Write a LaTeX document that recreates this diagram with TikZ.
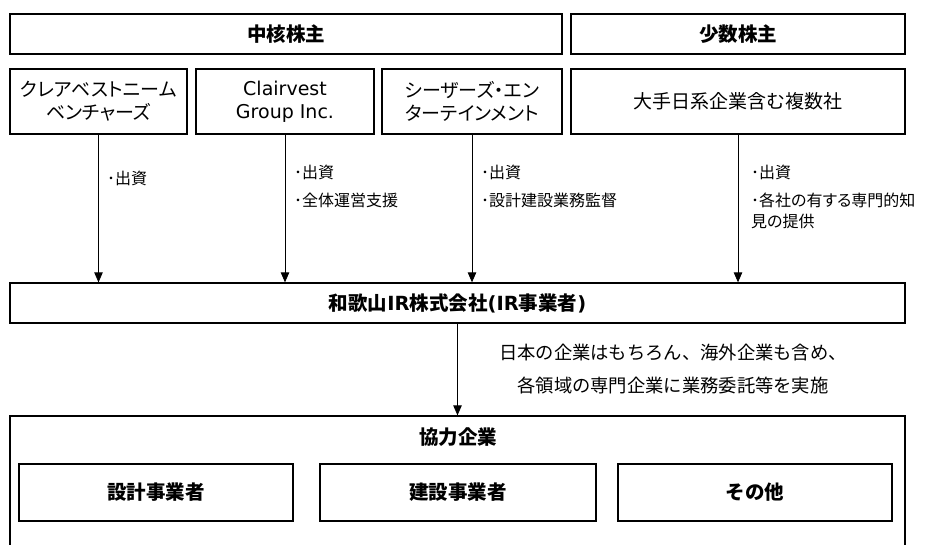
\documentclass[tikz,border=0pt]{standalone}
\usepackage{fontspec}
\setmainfont{Noto Sans CJK JP}
\newfontfamily\jpp[RawFeature=+palt]{Noto Sans CJK JP}
\newfontfamily\lat{DejaVu Sans}
\usetikzlibrary{arrows.meta}
\tikzset{
  boxa/.style={draw, line width=1.3pt, inner sep=0pt, align=center},
  head/.style={boxa, font=\fontsize{19.5}{23}\selectfont\bfseries},
  member/.style={boxa, font=\jpp\fontsize{19}{23}\selectfont},
  lbl/.style={anchor=north west, inner sep=0pt, align=left, font=\jpp\fontsize{16}{21}\selectfont},
  flow/.style={draw, line width=0.8pt, -{Triangle[length=10pt,width=8.5pt]}}
}
\begin{document}
\begin{tikzpicture}[x=1pt,y=-1pt]
\useasboundingbox (0,0) rectangle (927,544);
\clip (0,0) rectangle (927,544);
\node[head, minimum width=552, minimum height=40] (chu) at (286,34) {中核株主};
\node[head, minimum width=334, minimum height=40] (sho) at (738,34) {少数株主};
\node[member, minimum width=177, minimum height=65] (b1) at (98.5,101.5) {クレアベストニーム\\ベンチャーズ};
\node[member, minimum width=178, minimum height=65, font=\lat\fontsize{19}{23}\selectfont] (b2) at (285,101.5) {Clairvest\\Group Inc.};
\node[member, minimum width=180, minimum height=65] (b3) at (472,101.5) {シーザーズ・エン\\ターテインメント};
\node[member, minimum width=334, minimum height=65] (b4) at (738,101.5) {大手日系企業含む複数社};
\node[head, minimum width=895, minimum height=40] (ir) at (457.5,303) {和歌山{\lat\bfseries IR}株式会社{\lat\bfseries (IR}事業者{\lat\bfseries )}};
\node[boxa, minimum width=895, minimum height=150] (kyo) at (457.5,491) {};
\node[inner sep=0pt, font=\fontsize{19.5}{23}\selectfont\bfseries] (kt) at (458,437) {協力企業};
\node[head, minimum width=274, minimum height=57] (i1) at (156,492.5) {設計事業者};
\node[head, minimum width=276, minimum height=57] (i2) at (458,492.5) {建設事業者};
\node[head, minimum width=274, minimum height=57] (i3) at (755,492.5) {その他};
\draw[flow] (b1.south) -- (b1.south |- ir.north);
\draw[flow] (b2.south) -- (b2.south |- ir.north);
\draw[flow] (b3.south) -- (b3.south |- ir.north);
\draw[flow] (b4.south) -- (b4.south |- ir.north);
\draw[flow] (ir.south) -- (ir.south |- kyo.north);
\node[lbl] (l1) at (107,171) {･出資};
\node[lbl] (l2) at (294,165) {･出資\\[7pt]･全体運営支援};
\node[lbl] (l3) at (481,165) {･出資\\[7pt]･設計建設業務監督};
\node[lbl] (l4) at (751,165) {･出資\\[7pt]･各社の有する専門的知\\見の提供};
\node[align=center, inner sep=0pt, font=\fontsize{18.3}{33}\selectfont] (note) at (673,369) {日本の企業はもちろん、海外企業も含め、\\各領域の専門企業に業務委託等を実施};
\end{tikzpicture}
\end{document}
